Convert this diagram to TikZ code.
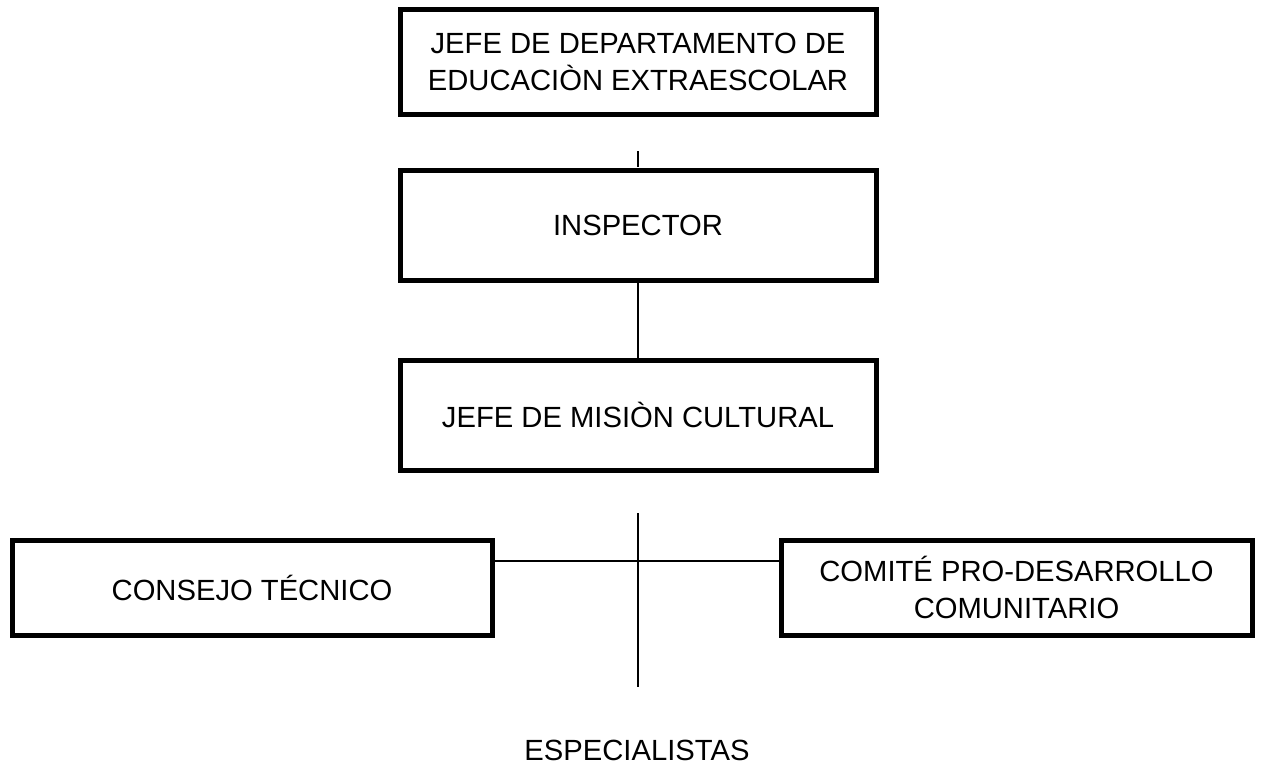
\documentclass[tikz,border=0pt]{standalone}
\usepackage{fontspec}
\setmainfont{Liberation Sans}
\tikzset{
  caja/.style={draw,line width=2.5pt,align=center,minimum width=238pt,inner sep=0pt},
  linea/.style={line width=0.6pt}
}
\begin{document}
\begin{tikzpicture}[x=0.5pt,y=-0.5pt,font=\fontsize{14.6}{18.3}\selectfont]
\useasboundingbox (0,0) rectangle (1262,766);
% Cajas centrales
\node[caja,minimum height=52.75pt] (jefe) at (638,62) {JEFE DE DEPARTAMENTO DE\\EDUCACIÒN EXTRAESCOLAR};
\node[caja,minimum height=55pt] (insp) at (638,225) {INSPECTOR};
\node[caja,minimum height=55pt] (mision) at (638,415) {JEFE DE MISIÒN CULTURAL};
% Cajas laterales
\node[caja,minimum width=240pt,minimum height=47.5pt] (consejo) at (252,587.5) {CONSEJO TÉCNICO};
\node[caja,minimum width=235.5pt,minimum height=47.5pt] (comite) at (1016.5,587.5) {COMITÉ PRO-DESARROLLO\\COMUNITARIO};
\node (espec) at (637,750) {ESPECIALISTAS};
% Lineas
\coordinate (ejeA) at (638,513);
\coordinate (ejeB) at (638,687);
\coordinate (cruce) at (638,561);
\draw[linea] (jefe.south) ++(0,34) -- ++(0,16);
\draw[linea] (insp.south) -- (mision.north);
\draw[linea] (ejeA) -- (ejeB);
\draw[linea] (consejo.east |- cruce) -- (comite.west |- cruce);
\end{tikzpicture}
\end{document}
